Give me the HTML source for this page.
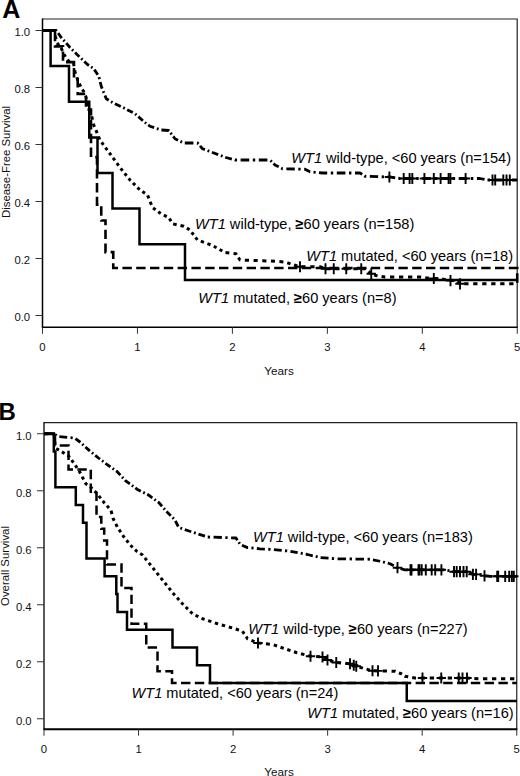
<!DOCTYPE html>
<html lang="en"><head><meta charset="utf-8"><title>WT1 survival curves</title>
<style>
html,body{margin:0;padding:0;background:#fff}
body{width:520px;height:776px;position:relative;overflow:hidden;font-family:"Liberation Sans", Arial, Helvetica, sans-serif}
</style></head><body>
<svg width="520" height="776" viewBox="0 0 520 776" style="position:absolute;left:0;top:0;display:block"><g font-family='"Liberation Sans", Arial, Helvetica, sans-serif' fill="#111"><path d="M42.5 19.0H517.2V327.3" fill="none" stroke="#222" stroke-width="1.2"/><path d="M42.5 18.4V327.3" fill="none" stroke="#000" stroke-width="1.5"/><path d="M41.75 327.3H517.8000000000001" fill="none" stroke="#000" stroke-width="1.5"/><path d="M35.5 30.5H42.5" stroke="#333" stroke-width="1"/><text x="30.1" y="36.30" font-size="11.3" text-anchor="end">1.0</text><path d="M35.5 87.5H42.5" stroke="#333" stroke-width="1"/><text x="30.1" y="93.30" font-size="11.3" text-anchor="end">0.8</text><path d="M35.5 144.5H42.5" stroke="#333" stroke-width="1"/><text x="30.1" y="150.30" font-size="11.3" text-anchor="end">0.6</text><path d="M35.5 201.5H42.5" stroke="#333" stroke-width="1"/><text x="30.1" y="207.30" font-size="11.3" text-anchor="end">0.4</text><path d="M35.5 258.5H42.5" stroke="#333" stroke-width="1"/><text x="30.1" y="264.30" font-size="11.3" text-anchor="end">0.2</text><path d="M35.5 315.5H42.5" stroke="#333" stroke-width="1"/><text x="30.1" y="321.30" font-size="11.3" text-anchor="end">0.0</text><path d="M42.50 327.3V333.8" stroke="#333" stroke-width="1"/><text x="42.50" y="350.60" font-size="11.3" text-anchor="middle">0</text><path d="M137.45 327.3V333.8" stroke="#333" stroke-width="1"/><text x="137.45" y="350.60" font-size="11.3" text-anchor="middle">1</text><path d="M232.40 327.3V333.8" stroke="#333" stroke-width="1"/><text x="232.40" y="350.60" font-size="11.3" text-anchor="middle">2</text><path d="M327.35 327.3V333.8" stroke="#333" stroke-width="1"/><text x="327.35" y="350.60" font-size="11.3" text-anchor="middle">3</text><path d="M422.30 327.3V333.8" stroke="#333" stroke-width="1"/><text x="422.30" y="350.60" font-size="11.3" text-anchor="middle">4</text><path d="M517.25 327.3V333.8" stroke="#333" stroke-width="1"/><text x="517.25" y="350.60" font-size="11.3" text-anchor="middle">5</text><text x="279" y="374.70" font-size="11.7" text-anchor="middle">Years</text><text transform="translate(9.6 162) rotate(-90)" font-size="11.3" text-anchor="middle" textLength="112" lengthAdjust="spacingAndGlyphs">Disease-Free Survival</text><text x="2.2" y="17.8" font-size="25" font-weight="bold" fill="#000">A</text><path d="M44.0 422.6H516.75V729.2" fill="none" stroke="#222" stroke-width="1.2"/><path d="M44.0 422.0V729.2" fill="none" stroke="#000" stroke-width="1.3"/><path d="M43.35 729.2H517.35" fill="none" stroke="#000" stroke-width="2.0"/><path d="M37.0 433.75H44.0" stroke="#333" stroke-width="1"/><text x="31.6" y="439.55" font-size="11.3" text-anchor="end">1.0</text><path d="M37.0 490.75H44.0" stroke="#333" stroke-width="1"/><text x="31.6" y="496.55" font-size="11.3" text-anchor="end">0.8</text><path d="M37.0 547.75H44.0" stroke="#333" stroke-width="1"/><text x="31.6" y="553.55" font-size="11.3" text-anchor="end">0.6</text><path d="M37.0 604.75H44.0" stroke="#333" stroke-width="1"/><text x="31.6" y="610.55" font-size="11.3" text-anchor="end">0.4</text><path d="M37.0 661.75H44.0" stroke="#333" stroke-width="1"/><text x="31.6" y="667.55" font-size="11.3" text-anchor="end">0.2</text><path d="M37.0 718.75H44.0" stroke="#333" stroke-width="1"/><text x="31.6" y="724.55" font-size="11.3" text-anchor="end">0.0</text><path d="M44.00 729.2V735.7" stroke="#333" stroke-width="1"/><text x="44.00" y="752.50" font-size="11.3" text-anchor="middle">0</text><path d="M138.55 729.2V735.7" stroke="#333" stroke-width="1"/><text x="138.55" y="752.50" font-size="11.3" text-anchor="middle">1</text><path d="M233.10 729.2V735.7" stroke="#333" stroke-width="1"/><text x="233.10" y="752.50" font-size="11.3" text-anchor="middle">2</text><path d="M327.65 729.2V735.7" stroke="#333" stroke-width="1"/><text x="327.65" y="752.50" font-size="11.3" text-anchor="middle">3</text><path d="M422.20 729.2V735.7" stroke="#333" stroke-width="1"/><text x="422.20" y="752.50" font-size="11.3" text-anchor="middle">4</text><path d="M516.75 729.2V735.7" stroke="#333" stroke-width="1"/><text x="516.75" y="752.50" font-size="11.3" text-anchor="middle">5</text><text x="279" y="775.60" font-size="11.7" text-anchor="middle">Years</text><text transform="translate(8.8 566) rotate(-90)" font-size="11.3" text-anchor="middle" textLength="80" lengthAdjust="spacingAndGlyphs">Overall Survival</text><text x="-1.5" y="420.0" font-size="24" font-weight="bold" fill="#000">B</text><path d="M42.50 30.50L51.10 30.50M54.70 30.50L56.25 30.50L56.60 31.00M58.10 33.10L61.25 37.50L61.74 38.06M63.42 39.98L64.54 41.26M66.22 43.18L70.00 47.50L70.25 47.75M72.05 49.55L73.25 50.75M75.05 52.55L77.50 55.00L79.40 56.80M81.24 58.56L82.47 59.73M84.32 61.48L87.50 64.50L88.93 65.47M91.07 66.93L92.50 67.90M94.35 69.65L97.79 74.81M98.99 77.21L99.47 79.13M100.19 82.01L101.25 86.25L102.19 88.61M103.22 91.18L103.91 92.89M104.94 95.46L106.25 98.75L108.75 100.25M111.00 101.60L112.50 102.50M114.94 103.66L120.77 106.43M123.19 107.61L124.77 108.43M127.14 109.66L132.80 112.60M135.13 113.87L136.41 114.99M138.33 116.67L142.92 120.68M144.84 122.36L145.00 122.50L146.20 123.40M148.26 124.94L150.00 126.25L154.14 127.66M156.82 128.58L158.61 129.19M161.38 130.02L168.75 130.50L169.07 130.93M170.62 132.97L171.66 134.34M173.21 136.39L175.00 138.75L178.00 140.20M180.42 141.38L182.03 142.17M184.80 143.00L193.40 143.00M197.00 143.00L197.50 143.00L198.38 144.02M200.06 145.94L202.50 148.75L204.94 149.66M207.55 150.65L209.30 151.30M211.92 152.28L212.50 152.50L218.19 154.61M220.82 155.58L222.57 156.23M225.20 157.20L226.00 157.50L231.87 159.13M234.69 159.91L235.00 160.00L237.00 160.00M240.60 160.00L249.20 160.00M252.80 160.00L255.20 160.00M258.80 160.00L267.40 160.00M270.50 160.50L271.70 161.70M273.50 163.50L275.00 165.00L278.73 166.87M281.13 168.07L282.50 168.75L282.84 168.76M286.36 168.84L294.78 169.02M298.30 169.10L300.65 169.15M304.17 169.23L305.00 169.25L310.00 171.75L310.23 171.77M313.50 172.10L315.68 172.32M318.95 172.65L322.50 173.00L327.20 173.00M330.80 173.00L333.20 173.00M336.80 173.00L345.40 173.00M349.00 173.00L351.40 173.00M355.00 173.00L360.00 173.00L362.18 174.42M364.36 175.84L365.00 176.25L366.31 176.29M369.81 176.39L378.16 176.64M381.65 176.75L383.98 176.82M387.48 176.92L390.00 177.00L395.22 177.78M398.35 178.25L400.00 178.50L400.50 178.50M404.10 178.50L412.70 178.50M416.30 178.50L418.70 178.50M422.30 178.50L430.90 178.50M434.50 178.50L436.90 178.50M440.50 178.50L449.10 178.50M452.70 178.50L455.10 178.50M458.70 178.50L467.30 178.50M470.90 178.50L473.30 178.50M476.90 178.50L480.00 178.50L484.53 179.47M487.60 180.00L490.00 180.00M493.60 180.00L502.20 180.00M505.80 180.00L508.20 180.00M511.80 180.00L517.25 180.00" fill="none" stroke="#000" stroke-width="2.8" stroke-linejoin="round"/><path d="M389.40 171.38V182.58M384.70 176.98H394.10" stroke="#000" stroke-width="1.9" fill="none"/><path d="M403.70 172.90V184.10M399.00 178.50H408.40" stroke="#000" stroke-width="1.9" fill="none"/><path d="M409.60 172.90V184.10M404.90 178.50H414.30" stroke="#000" stroke-width="1.9" fill="none"/><path d="M412.30 172.90V184.10M407.60 178.50H417.00" stroke="#000" stroke-width="1.9" fill="none"/><path d="M424.40 172.90V184.10M419.70 178.50H429.10" stroke="#000" stroke-width="1.9" fill="none"/><path d="M433.80 172.90V184.10M429.10 178.50H438.50" stroke="#000" stroke-width="1.9" fill="none"/><path d="M440.60 172.90V184.10M435.90 178.50H445.30" stroke="#000" stroke-width="1.9" fill="none"/><path d="M448.60 172.90V184.10M443.90 178.50H453.30" stroke="#000" stroke-width="1.9" fill="none"/><path d="M450.40 172.90V184.10M445.70 178.50H455.10" stroke="#000" stroke-width="1.9" fill="none"/><path d="M465.60 172.90V184.10M460.90 178.50H470.30" stroke="#000" stroke-width="1.9" fill="none"/><path d="M492.50 174.40V185.60M487.80 180.00H497.20" stroke="#000" stroke-width="1.9" fill="none"/><path d="M495.20 174.40V185.60M490.50 180.00H499.90" stroke="#000" stroke-width="1.9" fill="none"/><path d="M503.30 174.40V185.60M498.60 180.00H508.00" stroke="#000" stroke-width="1.9" fill="none"/><path d="M506.50 174.40V185.60M501.80 180.00H511.20" stroke="#000" stroke-width="1.9" fill="none"/><path d="M509.80 174.40V185.60M505.10 180.00H514.50" stroke="#000" stroke-width="1.9" fill="none"/><path d="M42.50 30.50L46.80 30.50M51.50 30.50L55.00 30.50L55.07 31.23M55.46 35.54L55.60 37.00L56.11 39.19M57.00 43.00L58.98 45.32M61.10 47.90L62.47 50.83M63.96 54.04L64.60 55.40L65.54 56.76M67.47 59.53L68.50 61.00L69.79 61.51M73.14 62.86L73.50 63.00L74.04 66.26M74.71 70.29L75.00 72.00L75.58 73.72M76.77 77.23L77.70 80.00L77.88 80.42M79.33 83.67L80.65 86.65M82.44 89.56L84.00 92.00L84.09 92.21M85.43 95.57L86.00 97.00L86.42 98.88M87.27 102.73L88.00 106.00L88.09 106.21M89.54 109.46L90.80 112.30L90.84 112.46M91.72 116.28L92.53 119.77M93.42 123.58L93.75 125.00L94.50 126.80M95.88 130.12L97.15 133.15M98.53 136.47L99.79 139.51M101.68 142.32L103.49 144.81M105.47 147.53L107.28 150.02M109.26 152.74L110.00 153.75L111.07 155.23M113.05 157.95L114.86 160.44M116.84 163.16L118.65 165.65M120.67 168.33L122.58 170.72M124.67 173.33L126.58 175.72M128.67 178.33L130.00 180.00L130.65 180.65M133.00 183.00L135.15 185.15M137.50 187.50L139.65 189.65M142.40 191.60L144.98 193.32M147.64 195.36L148.87 198.43M150.21 201.79L151.44 204.86M153.08 207.92L155.55 209.75M158.26 211.74L160.74 213.56M163.86 215.14L166.76 216.54M169.41 218.59L171.02 221.28M173.11 223.89L176.63 224.67M180.48 225.52L183.75 226.25L183.94 226.36M186.88 228.12L189.56 229.74M191.71 232.29L193.56 234.74M195.57 237.43L197.41 239.89M200.79 241.21L203.94 242.36M207.38 243.62L210.52 244.78M213.78 246.22L216.54 247.76M219.55 249.45L222.31 250.99M225.45 252.55L229.31 252.99M233.53 253.47L236.00 253.75L236.60 254.70M238.44 257.56L240.00 260.00L240.29 260.01M244.84 260.16L249.00 260.30M253.55 260.45L257.71 260.59M262.26 260.74L266.42 260.88M270.94 261.06L274.97 261.33M279.38 261.62L283.41 261.89M287.25 262.75L290.48 263.82M294.04 264.96L297.35 265.95M301.25 266.75L305.55 266.75M310.25 266.75L314.55 266.75M319.25 266.75L320.00 266.75L322.60 267.70M326.25 268.75L330.55 268.75M335.25 268.75L339.55 268.75M344.25 268.75L348.55 268.75M353.25 268.75L357.55 268.75M362.25 268.75L365.00 268.75L365.86 269.44M368.47 271.53L370.86 273.44M374.17 274.83L376.00 275.50L377.54 275.76M381.57 276.43L385.00 277.00L385.30 277.00M390.00 277.00L394.30 277.00M399.00 277.00L403.30 277.00M408.00 277.00L412.30 277.00M417.00 277.00L420.00 277.00L421.13 277.17M425.22 277.78L428.96 278.34M433.50 278.50L437.80 278.50M442.08 278.92L445.67 279.63M449.58 280.42L450.50 280.60L453.70 280.60M457.33 281.67L459.72 283.58M464.20 283.80L468.50 283.80M473.20 283.80L477.50 283.80M482.20 283.80L486.50 283.80M491.20 283.80L495.50 283.80M500.20 283.80L504.50 283.80M509.20 283.80L513.50 283.80" fill="none" stroke="#000" stroke-width="3.0" stroke-linejoin="round"/><path d="M300.00 261.15V272.35M295.30 266.75H304.70" stroke="#000" stroke-width="1.9" fill="none"/><path d="M325.50 263.15V274.35M320.80 268.75H330.20" stroke="#000" stroke-width="1.9" fill="none"/><path d="M333.75 263.15V274.35M329.05 268.75H338.45" stroke="#000" stroke-width="1.9" fill="none"/><path d="M346.25 263.15V274.35M341.55 268.75H350.95" stroke="#000" stroke-width="1.9" fill="none"/><path d="M361.25 263.15V274.35M356.55 268.75H365.95" stroke="#000" stroke-width="1.9" fill="none"/><path d="M371.25 268.15V279.35M366.55 273.75H375.95" stroke="#000" stroke-width="1.9" fill="none"/><path d="M433.80 272.90V284.10M429.10 278.50H438.50" stroke="#000" stroke-width="1.9" fill="none"/><path d="M450.50 275.00V286.20M445.80 280.60H455.20" stroke="#000" stroke-width="1.9" fill="none"/><path d="M460.00 278.20V289.40M455.30 283.80H464.70" stroke="#000" stroke-width="1.9" fill="none"/><polyline points="42.50,30.50 55.00,30.50 55.00,46.33 63.00,46.33 63.00,62.17 74.00,62.17 74.00,78.00 77.70,78.00 77.70,93.83 86.00,93.83 86.00,109.67 91.00,109.67 91.00,157.17 97.00,157.17 97.00,204.67 101.25,204.67 101.25,220.50 105.50,220.50 105.50,252.17 113.25,252.17 113.25,268.00 517.25,268.00 517.25,283.80" fill="none" stroke="#000" stroke-width="2.6" stroke-linejoin="miter" stroke-dasharray="9.4 4.4"/><polyline points="42.50,30.50 50.60,30.50 50.60,66.12 69.00,66.12 69.00,101.75 89.25,101.75 89.25,137.38 97.50,137.38 97.50,173.00 112.50,173.00 112.50,208.62 139.50,208.62 139.50,244.25 185.00,244.25 185.00,279.88 517.25,279.88" fill="none" stroke="#000" stroke-width="2.5" stroke-linejoin="miter"/><path d="M44.00 433.75L52.60 433.75M55.26 434.69L56.64 435.71M59.31 436.64L67.21 437.34M70.51 437.64L72.72 437.83M75.49 438.66L80.00 442.00L80.39 442.36M82.27 444.08L83.53 445.22M85.41 446.94L89.20 450.40L89.94 451.01M91.92 452.63L93.24 453.71M95.23 455.32L98.50 458.00L100.00 459.15M102.05 460.70L103.41 461.74M105.46 463.29L107.70 465.00L110.44 466.91M112.56 468.39L113.97 469.38M116.09 470.86L117.00 471.50L120.38 475.17M122.11 477.04L123.26 478.29M124.99 480.16L125.40 480.60L129.85 483.90M131.92 485.43L133.30 486.45M135.36 487.99L137.00 489.20L140.82 491.13M143.22 492.33L144.81 493.14M147.20 494.35L148.50 495.00L152.34 497.81M154.42 499.33L155.80 500.35M157.88 501.87L158.75 502.50L162.06 506.29M163.74 508.21L164.86 509.49M166.54 511.41L167.50 512.50L170.78 515.77M172.57 517.58L173.78 518.77M175.38 520.77L178.25 526.50M180.31 528.04L182.10 528.65M184.78 529.57L187.50 530.50L191.24 531.71M193.95 532.60L195.76 533.19M198.48 534.07L204.97 536.18M207.74 537.01L210.06 537.09M213.54 537.21L221.85 537.50M225.32 537.63L227.64 537.71M231.12 537.83L236.00 538.00L237.38 540.17M238.78 542.37L239.71 543.84M241.98 545.17L247.50 547.60L248.09 547.66M251.38 547.97L253.57 548.18M256.85 548.50L260.00 548.80L264.88 549.07M268.29 549.26L270.56 549.39M273.91 549.64L281.73 550.42M285.00 550.75L287.18 550.97M290.42 551.33L297.67 552.68M300.71 553.24L302.73 553.62M305.77 554.18L307.50 554.50L312.78 555.77M315.69 556.46L317.62 556.93M320.60 557.55L328.54 558.21M331.86 558.49L334.08 558.67M337.56 558.79L346.04 558.91M349.59 558.96L351.96 558.99M355.51 559.04L363.99 559.16M367.54 559.21L369.90 559.25M372.92 559.83L380.00 561.25L380.08 561.27M382.96 561.99L384.88 562.47M387.76 563.19L390.00 563.75L393.80 565.75M396.16 566.99L397.50 567.70L397.77 567.78M400.59 568.56L405.00 569.80L407.95 569.80M411.55 569.80L413.95 569.80M417.55 569.80L426.15 569.80M429.75 569.80L432.15 569.80M435.75 569.80L444.35 569.80M447.44 570.31L449.42 570.73M452.39 571.36L454.00 571.70L460.65 571.70M464.25 571.70L466.65 571.70M469.46 572.49L473.00 574.40L476.15 574.40M479.75 574.40L480.00 574.40L481.64 574.91M484.39 575.76L484.50 575.80L490.00 576.30L492.45 576.30M496.05 576.30L498.45 576.30M502.05 576.30L510.65 576.30M514.25 576.30L516.65 576.30" fill="none" stroke="#000" stroke-width="2.8" stroke-linejoin="round"/><path d="M397.50 562.10V573.30M392.80 567.70H402.20" stroke="#000" stroke-width="1.9" fill="none"/><path d="M410.50 564.20V575.40M405.80 569.80H415.20" stroke="#000" stroke-width="1.9" fill="none"/><path d="M411.50 564.20V575.40M406.80 569.80H416.20" stroke="#000" stroke-width="1.9" fill="none"/><path d="M418.50 564.20V575.40M413.80 569.80H423.20" stroke="#000" stroke-width="1.9" fill="none"/><path d="M419.50 564.20V575.40M414.80 569.80H424.20" stroke="#000" stroke-width="1.9" fill="none"/><path d="M421.70 564.20V575.40M417.00 569.80H426.40" stroke="#000" stroke-width="1.9" fill="none"/><path d="M425.80 564.20V575.40M421.10 569.80H430.50" stroke="#000" stroke-width="1.9" fill="none"/><path d="M431.70 564.20V575.40M427.00 569.80H436.40" stroke="#000" stroke-width="1.9" fill="none"/><path d="M435.20 564.20V575.40M430.50 569.80H439.90" stroke="#000" stroke-width="1.9" fill="none"/><path d="M441.40 564.20V575.40M436.70 569.80H446.10" stroke="#000" stroke-width="1.9" fill="none"/><path d="M454.00 566.10V577.30M449.30 571.70H458.70" stroke="#000" stroke-width="1.9" fill="none"/><path d="M456.70 566.10V577.30M452.00 571.70H461.40" stroke="#000" stroke-width="1.9" fill="none"/><path d="M460.00 566.10V577.30M455.30 571.70H464.70" stroke="#000" stroke-width="1.9" fill="none"/><path d="M463.50 566.10V577.30M458.80 571.70H468.20" stroke="#000" stroke-width="1.9" fill="none"/><path d="M466.70 566.10V577.30M462.00 571.70H471.40" stroke="#000" stroke-width="1.9" fill="none"/><path d="M472.90 568.75V579.95M468.20 574.35H477.60" stroke="#000" stroke-width="1.9" fill="none"/><path d="M476.10 568.80V580.00M471.40 574.40H480.80" stroke="#000" stroke-width="1.9" fill="none"/><path d="M484.50 570.20V581.40M479.80 575.80H489.20" stroke="#000" stroke-width="1.9" fill="none"/><path d="M497.20 570.70V581.90M492.50 576.30H501.90" stroke="#000" stroke-width="1.9" fill="none"/><path d="M498.20 570.70V581.90M493.50 576.30H502.90" stroke="#000" stroke-width="1.9" fill="none"/><path d="M505.20 570.70V581.90M500.50 576.30H509.90" stroke="#000" stroke-width="1.9" fill="none"/><path d="M509.20 570.70V581.90M504.50 576.30H513.90" stroke="#000" stroke-width="1.9" fill="none"/><path d="M511.90 570.70V581.90M507.20 576.30H516.60" stroke="#000" stroke-width="1.9" fill="none"/><path d="M513.80 570.70V581.90M509.10 576.30H518.50" stroke="#000" stroke-width="1.9" fill="none"/><path d="M44.00 433.75L48.30 433.75M53.00 433.75L54.00 433.75L54.30 436.75M54.72 441.03L55.10 444.95M56.25 448.50L58.94 450.11M61.89 451.86L64.58 453.47M67.53 455.22L68.50 455.80L69.66 457.39M71.63 460.12L73.00 462.00L73.43 462.62M75.35 465.40L77.10 467.95M79.02 470.73L79.20 471.00L80.52 473.53M82.14 476.61L83.61 479.44M85.23 482.52L86.00 484.00L87.37 484.68M90.08 486.67L92.25 488.80M94.61 491.14L96.50 493.00L96.74 493.31M98.82 495.93L100.73 498.32M102.81 500.94L104.20 502.70L104.74 503.31M106.94 505.81L108.96 508.09M111.07 510.68L111.93 514.12M112.87 517.88L112.90 518.00L114.27 520.78M115.83 523.92L117.25 526.80M119.05 529.70L120.78 532.27M122.67 535.08L123.50 536.30L124.48 537.57M126.52 540.23L128.39 542.66M130.48 545.27L132.68 547.37M135.08 549.67L137.00 551.50L137.34 551.71M140.21 553.54L142.50 555.00L142.74 555.31M144.83 557.92L146.74 560.31M148.83 562.92L150.74 565.31M152.83 567.92L154.74 570.31M156.83 572.92L158.74 575.31M160.83 577.92L162.50 580.00L162.74 580.31M164.83 582.92L166.74 585.31M168.83 587.92L170.74 590.31M172.85 592.90L174.88 595.17M177.09 597.66L179.11 599.94M181.32 602.43L182.50 603.75L183.40 604.65M185.75 607.00L187.90 609.15M190.25 611.50L192.40 613.65M195.50 615.25L198.37 616.68M201.50 618.25L202.50 618.75L204.60 619.45M208.12 620.62L211.35 621.70M214.88 622.88L217.50 623.75L218.12 623.93M221.78 624.97L225.12 625.93M228.78 626.97L232.12 627.93M235.75 629.00L238.97 630.08M242.50 631.25L244.22 633.83M246.10 636.65L247.50 638.75L248.07 638.98M251.42 640.33L254.48 641.57M257.82 642.93L258.00 643.00L261.67 643.38M265.93 643.82L269.83 644.22M273.81 644.94L277.01 646.04M280.52 647.23L283.73 648.32M287.25 649.50L290.48 650.58M294.00 651.75L296.25 652.50L297.28 652.77M301.00 653.75L304.40 654.65M308.12 655.62L310.50 656.25L311.72 656.33M316.15 656.60L320.19 656.86M323.91 657.84L326.59 659.46M330.03 660.72L333.37 661.68M337.17 662.58L341.11 662.94M345.42 663.33L349.36 663.69M352.86 664.89L355.93 666.12M359.56 667.19L362.90 668.15M366.58 669.17L369.97 670.08M373.97 670.78L378.17 670.88M382.77 670.98L386.98 671.07M391.58 671.17L395.00 671.25L395.57 671.48M398.93 672.82L401.25 673.75L401.88 674.17M404.70 676.05L405.00 676.25L408.23 676.82M412.23 677.52L415.00 678.00L416.05 678.00M420.75 678.00L425.05 678.00M429.75 678.00L434.05 678.00M438.75 678.00L443.05 678.00M447.75 678.00L452.05 678.00M456.75 678.00L461.05 678.00M465.75 678.00L467.00 678.00L469.88 678.17M474.33 678.42L478.39 678.66M483.00 678.75L487.30 678.75M492.00 678.75L496.30 678.75M501.00 678.75L505.30 678.75M510.00 678.75L514.30 678.75" fill="none" stroke="#000" stroke-width="3.0" stroke-linejoin="round"/><path d="M258.00 637.40V648.60M253.30 643.00H262.70" stroke="#000" stroke-width="1.9" fill="none"/><path d="M310.50 650.65V661.85M305.80 656.25H315.20" stroke="#000" stroke-width="1.9" fill="none"/><path d="M322.50 651.40V662.60M317.80 657.00H327.20" stroke="#000" stroke-width="1.9" fill="none"/><path d="M327.50 654.40V665.60M322.80 660.00H332.20" stroke="#000" stroke-width="1.9" fill="none"/><path d="M336.25 656.90V668.10M331.55 662.50H340.95" stroke="#000" stroke-width="1.9" fill="none"/><path d="M350.00 658.15V669.35M345.30 663.75H354.70" stroke="#000" stroke-width="1.9" fill="none"/><path d="M353.75 659.65V670.85M349.05 665.25H358.45" stroke="#000" stroke-width="1.9" fill="none"/><path d="M356.25 660.65V671.85M351.55 666.25H360.95" stroke="#000" stroke-width="1.9" fill="none"/><path d="M372.50 665.15V676.35M367.80 670.75H377.20" stroke="#000" stroke-width="1.9" fill="none"/><path d="M378.00 665.27V676.47M373.30 670.87H382.70" stroke="#000" stroke-width="1.9" fill="none"/><path d="M422.50 672.40V683.60M417.80 678.00H427.20" stroke="#000" stroke-width="1.9" fill="none"/><path d="M441.25 672.40V683.60M436.55 678.00H445.95" stroke="#000" stroke-width="1.9" fill="none"/><path d="M458.75 672.40V683.60M454.05 678.00H463.45" stroke="#000" stroke-width="1.9" fill="none"/><path d="M462.50 672.40V683.60M457.80 678.00H467.20" stroke="#000" stroke-width="1.9" fill="none"/><path d="M467.00 672.40V683.60M462.30 678.00H471.70" stroke="#000" stroke-width="1.9" fill="none"/><polyline points="44.00,433.75 55.00,433.75 55.00,445.62 68.50,445.62 68.50,469.38 90.80,469.38 90.80,493.12 96.50,493.12 96.50,516.88 101.30,516.88 101.30,528.75 104.20,528.75 104.20,540.62 107.00,540.62 107.00,564.38 121.50,564.38 121.50,588.12 131.50,588.12 131.50,623.75 146.25,623.75 146.25,647.50 157.50,647.50 157.50,671.25 172.00,671.25 172.00,683.12 516.75,683.12" fill="none" stroke="#000" stroke-width="2.5" stroke-linejoin="miter" stroke-dasharray="9.4 4.4"/><polyline points="44.00,433.75 53.80,433.75 53.80,451.56 55.40,451.56 55.40,487.19 75.80,487.19 75.80,505.00 83.00,505.00 83.00,522.81 86.50,522.81 86.50,558.44 104.60,558.44 104.60,576.25 116.30,576.25 116.30,594.06 117.50,594.06 117.50,611.88 127.00,611.88 127.00,629.69 172.50,629.69 172.50,647.50 197.00,647.50 197.00,665.31 210.00,665.31 210.00,683.12 406.75,683.12 406.75,700.94 516.75,700.94" fill="none" stroke="#000" stroke-width="2.5" stroke-linejoin="miter"/><text x="291.2" y="162.5" font-size="14.6" fill="#000"><tspan font-style="italic">WT1</tspan> wild-type, &lt;60 years (n=154)</text><text x="195.0" y="229.1" font-size="14.6" fill="#000"><tspan font-style="italic">WT1</tspan> wild-type, <tspan font-weight='bold'>≥</tspan>60 years (n=158)</text><text x="306.2" y="260.6" font-size="14.6" fill="#000"><tspan font-style="italic">WT1</tspan> mutated, &lt;60 years (n=18)</text><text x="198.3" y="302.5" font-size="14.6" fill="#000"><tspan font-style="italic">WT1</tspan> mutated, <tspan font-weight='bold'>≥</tspan>60 years (n=8)</text><text x="253" y="542.2" font-size="14.6" fill="#000"><tspan font-style="italic">WT1</tspan> wild-type, &lt;60 years (n=183)</text><text x="248.3" y="634.4" font-size="14.6" fill="#000"><tspan font-style="italic">WT1</tspan> wild-type, <tspan font-weight='bold'>≥</tspan>60 years (n=227)</text><text x="131.5" y="698.2" font-size="14.6" fill="#000"><tspan font-style="italic">WT1</tspan> mutated, &lt;60 years (n=24)</text><text x="307.3" y="717.9" font-size="14.6" fill="#000"><tspan font-style="italic">WT1</tspan> mutated, <tspan font-weight='bold'>≥</tspan>60 years (n=16)</text></g></svg>
</body></html>
